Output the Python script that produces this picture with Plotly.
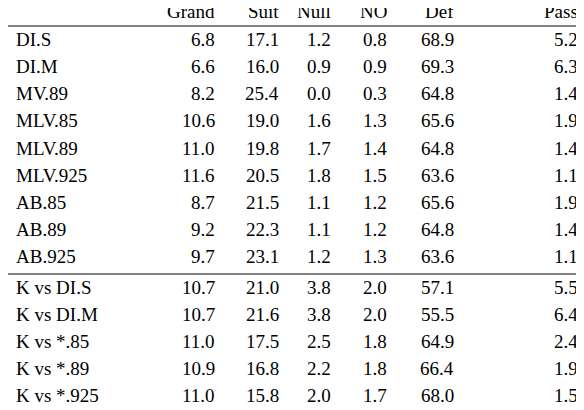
import plotly.graph_objects as go

headers = ["Match", "Grand", "Suit", "Null", "NO", "Def", "Pass"]
matches = ["DI.S", "DI.M", "MV.89", "MLV.85", "MLV.89", "MLV.925", "AB.85", "AB.89", "AB.925",
           "K vs DI.S", "K vs DI.M", "K vs *.85", "K vs *.89", "K vs *.925"]
grand = [6.8, 6.6, 8.2, 10.6, 11.0, 11.6, 8.7, 9.2, 9.7, 10.7, 10.7, 11.0, 10.9, 11.0]
suit = [17.1, 16.0, 25.4, 19.0, 19.8, 20.5, 21.5, 22.3, 23.1, 21.0, 21.6, 17.5, 16.8, 15.8]
null = [1.2, 0.9, 0.0, 1.6, 1.7, 1.8, 1.1, 1.1, 1.2, 3.8, 3.8, 2.5, 2.2, 2.0]
no = [0.8, 0.9, 0.3, 1.3, 1.4, 1.5, 1.2, 1.2, 1.3, 2.0, 2.0, 1.8, 1.8, 1.7]
deff = [68.9, 69.3, 64.8, 65.6, 64.8, 63.6, 65.6, 64.8, 63.6, 57.1, 55.5, 64.9, 66.4, 68.0]
pas = [5.2, 6.3, 1.4, 1.9, 1.4, 1.1, 1.9, 1.4, 1.1, 5.5, 6.4, 2.4, 1.9, 1.5]

cols = [grand, suit, null, no, deff, pas]
col_x = [217, 281, 333, 389, 456, 580]
row_y0, row_h, head_y = 12, 27.2, 11
font = dict(family="Liberation Serif", size=19, color="black")

fig = go.Figure()
ann = []
ann.append(dict(x=2, y=head_y, text=headers[0], xanchor="left"))
for h, x in zip(headers[1:], col_x):
    ann.append(dict(x=x, y=head_y, text=h, xanchor="right"))
for i, m in enumerate(matches):
    y = row_y0 + row_h * (i + 1) + (3 if i >= 9 else 0)
    ann.append(dict(x=14, y=y, text=m, xanchor="left"))
    for c, x in zip(cols, col_x):
        ann.append(dict(x=x, y=y, text=f"{c[i]:.1f}", xanchor="right"))
for a in ann:
    a.update(xref="x", yref="y", showarrow=False, yanchor="middle", font=font)
fig.update_layout(
    annotations=ann,
    shapes=[dict(type="line", xref="x", yref="y", x0=8, x1=592, y0=y, y1=y,
                 line=dict(color="black", width=1)) for y in (26, 274)],
    width=584, height=410, margin=dict(l=0, r=0, t=0, b=0),
    plot_bgcolor="white", paper_bgcolor="white",
    xaxis=dict(range=[8, 592], visible=False),
    yaxis=dict(range=[418, 8], visible=False),
)
fig.write_html("out.html")
